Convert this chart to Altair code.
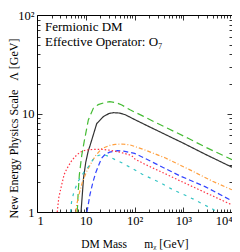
import altair as alt
import pandas as pd

# ---- data ----
series_names = ["green", "black", "orange", "blue", "red", "cyan"]
series_colors = ["#44bb33", "#333333", "#ffa040", "#3344ff", "#ff3344", "#33c4c4"]
series_dash = [[7, 4], [1, 0], [4, 2, 1, 2], [5, 3], [1.5, 2], [3, 5]]

green_m = [6.7, 7.0, 7.4, 8.3, 9.3, 11.3, 14.3, 18, 22.9, 31, 42, 55, 81, 150, 300, 680, 1260, 3000, 10000]
green_L = [1.0, 1.6, 2.4, 3.8, 5.2, 8.6, 11.3, 12.3, 12.8, 13.2, 12.9, 12.2, 10.9, 9.4, 7.9, 6.5, 5.6, 4.5, 3.4]

black_m = [8.0, 9.0, 10, 11.3, 12.2, 13.3, 16.8, 23, 30, 37, 50, 65, 100, 189, 500, 1000, 3000, 10000]
black_L = [1.0, 2.2, 3.2, 4.2, 4.7, 5.4, 7.9, 9.3, 10.0, 10.2, 10.1, 9.7, 8.7, 7.45, 5.9, 5.0, 3.8, 2.85]

orange_m = [6.3, 6.5, 7.5, 8.5, 10.4, 13.2, 16, 21.2, 31, 40, 55, 81, 164, 423, 856, 1620, 4000, 10000]
orange_L = [1.0, 1.18, 1.6, 2.0, 2.57, 3.2, 3.75, 4.4, 4.75, 4.85, 4.9, 4.8, 4.26, 3.55, 3.0, 2.57, 2.05, 1.68]

blue_m = [10.6, 12.2, 14, 16, 18, 21, 25, 31, 45, 60, 100, 164, 491, 850, 2800, 10000]
blue_L = [1.0, 1.5, 2.0, 2.5, 2.9, 3.5, 3.85, 4.05, 4.2, 4.15, 3.94, 3.5, 2.67, 2.33, 1.81, 1.30]

red_m = [2.6, 2.8, 3.2, 3.6, 4.1, 5.0, 6.0, 7.6, 10, 15, 22, 30, 50, 87, 102, 164, 423, 900, 2200, 10000]
red_L = [1.0, 1.4, 1.88, 2.4, 2.75, 3.25, 3.64, 4.05, 4.25, 4.33, 4.32, 4.25, 4.05, 3.75, 3.45, 3.05, 2.45, 2.05, 1.67, 1.18]

cyan_m = [4.9, 5.1, 5.7, 7, 9, 11.8, 14, 18, 23, 30, 40, 58, 88, 141, 363, 630, 1000, 1620, 4150, 4800]
cyan_L = [1.0, 1.25, 1.6, 2.05, 2.5, 2.95, 3.4, 3.75, 3.85, 3.65, 3.4, 3.12, 2.78, 2.43, 1.95, 1.67, 1.51, 1.35, 1.06, 1.0]

x_major = [1, 10, 100, 1000, 10000]
x_major_labels = ["1", "10", "10\u00b2", "10\u00b3", "10\u2074"]
y_major = [1, 10, 100]
y_major_labels = ["1", "10", "10\u00b2"]
minor_digits = [2, 3, 4, 5, 6, 7, 8, 9]

x_minor = [d * 10 ** k for k in range(4) for d in minor_digits]
y_minor = [d * 10 ** k for k in range(2) for d in minor_digits]

all_m = [green_m, black_m, orange_m, blue_m, red_m, cyan_m]
all_L = [green_L, black_L, orange_L, blue_L, red_L, cyan_L]

rows = []
for name, ms, ls in zip(series_names, all_m, all_L):
    for i, (m, l) in enumerate(zip(ms, ls)):
        rows.append({"series": name, "m": m, "L": l, "i": i})
df = pd.DataFrame(rows)


def label_expr(values, labels):
    expr = "''"
    for v, t in zip(reversed(values), reversed(labels)):
        expr = f"datum.value == {v} ? '{t}' : ({expr})"
    return expr


FONT = "Liberation Serif"
xs = alt.Scale(type="log", domain=[1, 10000], nice=False)
ys = alt.Scale(type="log", domain=[1, 100], nice=False)

common = dict(domain=False, grid=False, tickColor="#000", tickWidth=0.8,
              labelFont=FONT, labelFontSize=12.5, labelColor="#000",
              titleFont=FONT, titleColor="#000", titleFontWeight="normal")

base = alt.Chart(df)

lines = base.mark_line(clip=True, strokeWidth=1.2).encode(
    x=alt.X("m:Q", scale=xs, axis=alt.Axis(
        values=x_major, labelExpr=label_expr(x_major, x_major_labels),
        orient="bottom", tickSize=5, offset=-5, labelPadding=2,
        title="DM Mass\u2003\u2002m\u1d6a [GeV]", titleFontSize=11.5, titlePadding=12, **common)),
    y=alt.Y("L:Q", scale=ys, axis=alt.Axis(
        values=y_major, labelExpr=label_expr(y_major, y_major_labels),
        orient="left", tickSize=5, offset=-5, labelPadding=3,
        title="New Energy Physics Scale\u2002 \u039b [GeV]", titleFontSize=12,
        titleX=-22, titleY=113, **common)),
    color=alt.Color("series:N", scale=alt.Scale(domain=series_names, range=series_colors), legend=None),
    strokeDash=alt.StrokeDash("series:N", scale=alt.Scale(domain=series_names, range=series_dash), legend=None),
    order="i:Q",
)


def tick_layer(xvals, yvals, xorient, yorient, size):
    return base.mark_point(opacity=0).encode(
        x=alt.X("m:Q", scale=xs, axis=alt.Axis(values=xvals, labels=False, orient=xorient,
                                                tickSize=size, offset=-size, title=None, **common)),
        y=alt.Y("L:Q", scale=ys, axis=alt.Axis(values=yvals, labels=False, orient=yorient,
                                                tickSize=size, offset=-size, title=None, **common)),
    )


minor_bl = tick_layer(x_minor, y_minor, "bottom", "left", 3)
major_tr = tick_layer(x_major, y_major, "top", "right", 5)
minor_tr = tick_layer(x_minor, y_minor, "top", "right", 3)

notes_text = ["Fermionic DM", "Effective Operator: O\u2087"]


def note(text, ypix):
    return alt.Chart(pd.DataFrame({"t": [text]})).mark_text(
        align="left", baseline="alphabetic", font=FONT, fontSize=13, color="#000"
    ).encode(text="t:N", x=alt.value(8), y=alt.value(ypix))


chart = alt.layer(lines, minor_bl, major_tr, minor_tr,
                  note(notes_text[0], 16), note(notes_text[1], 31)).resolve_axis(
    x="independent", y="independent"
).properties(
    width=195, height=197,
    padding={"left": 29, "top": 7, "right": 0, "bottom": 40},
    autosize=alt.AutoSizeParams(type="none"),
).configure_view(stroke="#000", strokeWidth=1)

chart.save("out.html", embed_options={"renderer": "svg", "actions": False})
